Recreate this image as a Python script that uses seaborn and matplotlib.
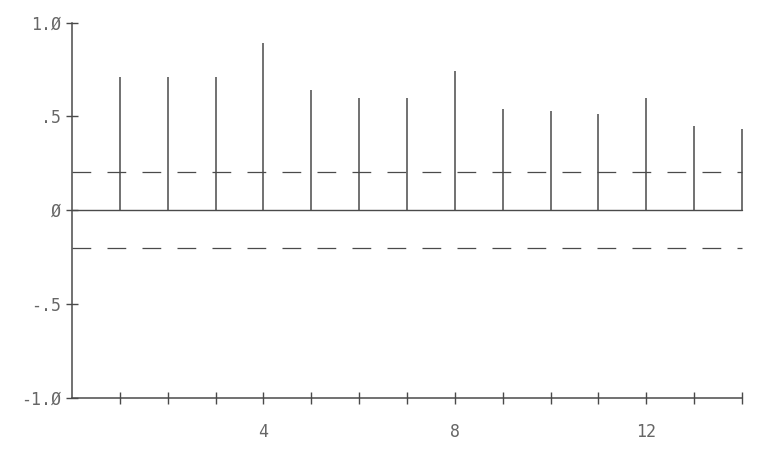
import matplotlib
matplotlib.use("Agg")
import matplotlib.pyplot as plt
import seaborn as sns
import numpy as np
import pandas as pd

# Data (autocorrelation by lag)
lags = [1, 2, 3, 4, 5, 6, 7, 8, 9, 10, 11, 12, 13, 14]
acf = [0.71, 0.71, 0.71, 0.89, 0.64, 0.60, 0.60, 0.74, 0.54, 0.53, 0.51, 0.60, 0.45, 0.43]
conf_upper = 0.205
conf_lower = -0.205
y_ticks = [1.0, 0.5, 0.0, -0.5, -1.0]
y_tick_labels = ["1.Ø", ".5", "Ø", "-.5", "-1.Ø"]
x_ticks = list(range(1, 15))
x_label_ticks = [4, 8, 12]

sns.set_theme(style="white")
plt.rcParams["font.family"] = ["DejaVu Sans Mono", "DejaVu Sans"]

line_col = "#4a4a4a"
text_col = "#666666"

fig = plt.figure(figsize=(7.73, 4.51), dpi=100)
ax = fig.add_axes([0, 0, 1, 1])
ax.set_facecolor("white")

df = pd.DataFrame({"lag": lags, "acf": acf})

# Stems
ax.vlines(df["lag"], 0, df["acf"], color=line_col, linewidth=1.1)

# Zero line and confidence bands
band = pd.DataFrame({"x": [0, lags[-1]], "zero": [0, 0],
                     "up": [conf_upper, conf_upper], "lo": [conf_lower, conf_lower]})
sns.lineplot(data=band, x="x", y="zero", ax=ax, color=line_col, linewidth=1.0)
sns.lineplot(data=band, x="x", y="up", ax=ax, color=line_col, linewidth=0.9,
             dashes=False).lines[-1].set_dashes((15, 13))
sns.lineplot(data=band, x="x", y="lo", ax=ax, color=line_col, linewidth=0.9,
             dashes=False).lines[-1].set_dashes((15, 13))

# Limits matching the reference pixel mapping
ax.set_xlim(-1.504, 14.648)
ax.set_ylim(-1.285, 1.12)
ax.set_xlabel("")
ax.set_ylabel("")

# Spines: left at x=0 spanning -1..1, bottom at y=-1 spanning 0..14
for s in ["top", "right"]:
    ax.spines[s].set_visible(False)
ax.spines["left"].set_position(("data", 0))
ax.spines["left"].set_bounds(-1, 1)
ax.spines["bottom"].set_position(("data", -1))
ax.spines["bottom"].set_bounds(0, 14)
for s in ["left", "bottom"]:
    ax.spines[s].set_visible(True)
    ax.spines[s].set_color(line_col)
    ax.spines[s].set_linewidth(1.1)

ax.set_yticks(y_ticks)
ax.set_yticklabels(y_tick_labels)
ax.set_xticks(x_ticks)
ax.set_xticklabels([str(t) if t in x_label_ticks else "" for t in x_ticks])
ax.tick_params(axis="both", direction="inout", length=8, width=1.0,
               color=line_col, labelcolor=text_col, labelsize=12)
ax.tick_params(axis="x", pad=14)
ax.tick_params(axis="y", pad=4)
ax.tick_params(left=True, bottom=True)

fig.savefig("out.png", dpi=100, facecolor="white")
